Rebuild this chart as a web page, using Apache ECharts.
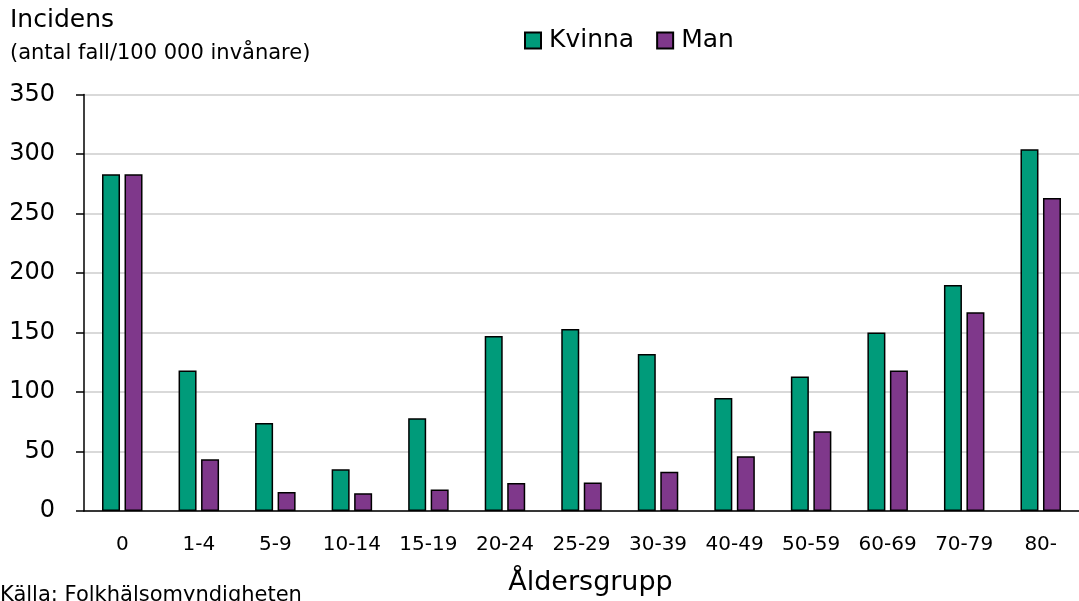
<!DOCTYPE html>
<html>
<head>
<meta charset="utf-8">
<script src="https://cdn.jsdelivr.net/npm/echarts@6/dist/echarts.min.js"></script>
<style>
html,body{margin:0;padding:0;background:#fff;}
#c{width:1079px;height:601px;}
</style>
</head>
<body>
<div id="c"></div>
<script>
const categories = ['0','1-4','5-9','10-14','15-19','20-24','25-29','30-39','40-49','50-59','60-69','70-79','80-'];
const kvinna = [283, 118, 74, 35, 78, 147, 153, 132, 95, 113, 150, 190, 304];
const man = [283, 43.5, 16, 15, 18, 23.5, 24, 33, 46, 67, 118, 167, 263];
const yTicks = [0, 50, 100, 150, 200, 250, 300, 350];

const FONT = 'DejaVu Sans';
const chart = echarts.init(document.getElementById('c'), null, {renderer: 'canvas'});
chart.setOption({
  animation: false,
  backgroundColor: '#ffffff',
  textStyle: {fontFamily: FONT, color: '#000'},
  grid: {left: 84, right: -7, top: 94.5, bottom: 88.5, containLabel: false},
  legend: {
    left: 524, top: 28, padding: 0,
    icon: 'rect',
    itemWidth: 16, itemHeight: 16, itemGap: 22,
    textStyle: {fontFamily: FONT, fontSize: 25, color: '#000', padding: [0,0,0,3]},
    data: ['Kvinna', 'Man']
  },
  graphic: [
    {type: 'text', left: 10, top: 8, style: {text: 'Incidens', fontFamily: FONT, fontSize: 25, fill: '#000'}},
    {type: 'text', left: 10, top: 43, style: {text: '(antal fall/100 000 invånare)', fontFamily: FONT, fontSize: 21, fill: '#000'}},
    {type: 'text', left: 0, top: 585, style: {text: 'Källa: Folkhälsomyndigheten', fontFamily: FONT, fontSize: 21, fill: '#000'}}
  ],
  xAxis: {
    type: 'category',
    data: categories,
    name: 'Åldersgrupp',
    nameLocation: 'middle',
    nameGap: 58,
    nameTextStyle: {fontFamily: FONT, fontSize: 27, color: '#000', padding: [0, 0, 0, 18]},
    axisLine: {lineStyle: {color: '#000', width: 1.5}},
    axisTick: {show: false},
    axisLabel: {fontFamily: FONT, fontSize: 20, color: '#000', margin: 24, interval: 0}
  },
  yAxis: {
    type: 'value',
    min: yTicks[0], max: yTicks[yTicks.length - 1], interval: 50,
    axisLine: {show: true, lineStyle: {color: '#000', width: 1.5}},
    axisTick: {show: true, length: 8, lineStyle: {color: '#000', width: 1.5}},
    axisLabel: {fontFamily: FONT, fontSize: 24, color: '#000', margin: 29},
    splitLine: {lineStyle: {color: '#d9d9d9', width: 2}}
  },
  series: [
    {
      name: 'Kvinna', type: 'bar', data: kvinna,
      barWidth: 18, barGap: '25%',
      itemStyle: {color: '#009B7A', borderColor: '#000', borderWidth: 1.5}
    },
    {
      name: 'Man', type: 'bar', data: man,
      barWidth: 18,
      itemStyle: {color: '#7F388B', borderColor: '#000', borderWidth: 1.5}
    }
  ]
});
</script>
</body>
</html>
